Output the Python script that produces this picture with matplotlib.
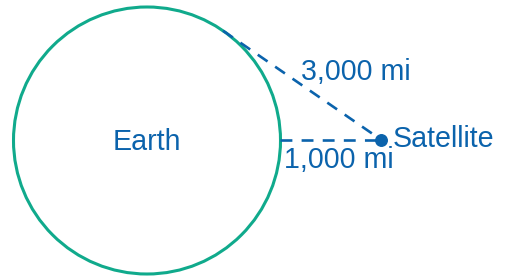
import matplotlib
matplotlib.use("Agg")
import matplotlib.pyplot as plt
from matplotlib.patches import Circle
import numpy as np

# data (pixel-space geometry)
earth_center = (147, 140.5)
earth_radius = 133.5
satellite = (381.5, 140)
labels = ["Earth", "Satellite", "3,000 mi", "1,000 mi"]

BLUE = "#0b63ac"
GREEN = "#10aa8c"

fig = plt.figure(figsize=(5.10, 2.76), dpi=100)
ax = fig.add_axes([0, 0, 1, 1])
ax.set_xlim(0, 510)
ax.set_ylim(276, 0)
ax.set_aspect("equal")
ax.axis("off")

ax.add_patch(Circle(earth_center, earth_radius, fill=False, edgecolor=GREEN, lw=2.2))

cx, cy = earth_center
sx, sy = satellite
d = np.hypot(sx - cx, sy - cy)
theta = np.arccos(earth_radius / d)
tx = cx + earth_radius * np.cos(theta)
ty = cy - earth_radius * np.sin(theta)

ax.plot([cx + earth_radius, sx], [sy, sy], color=BLUE, lw=1.9, dashes=(4.5, 3.5))
ax.plot([tx, sx], [ty, sy], color=BLUE, lw=1.9, dashes=(4.5, 3.5))
ax.plot([sx], [sy], "o", color=BLUE, ms=8.3)

font = dict(family=["Liberation Sans", "DejaVu Sans"], size=20.6, color=BLUE)
ax.text(cx, 150, labels[0], ha="center", va="baseline", **font)
ax.text(393, 147, labels[1], ha="left", va="baseline", **font)
ax.text(301, 80, labels[2], ha="left", va="baseline", **font)
ax.text(284, 168, labels[3], ha="left", va="baseline", **font)

fig.savefig("out.png", dpi=100)
